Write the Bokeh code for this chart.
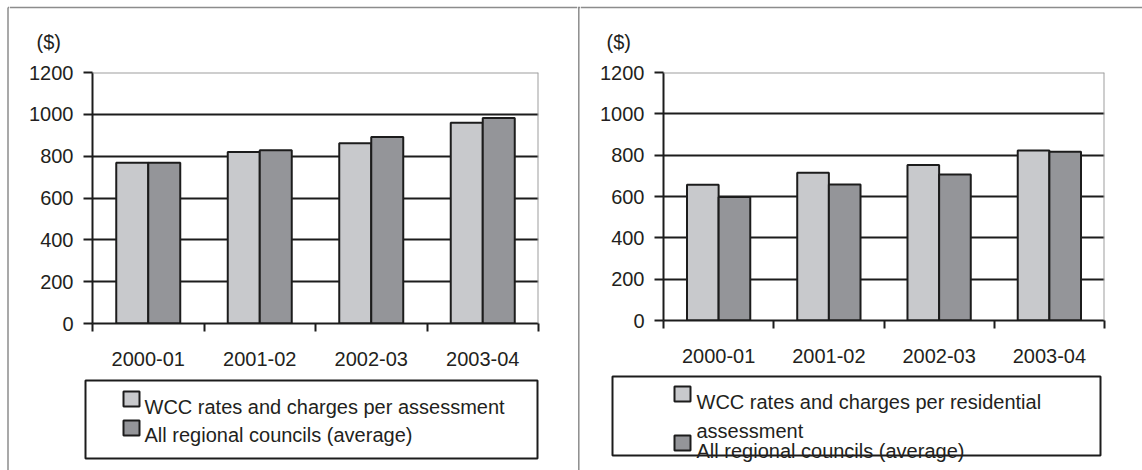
from bokeh.plotting import figure
from bokeh.layouts import row, column
from bokeh.models import Range1d, FixedTicker, CustomJSTickFormatter, Span, ColumnDataSource
from bokeh.transform import dodge
from bokeh.embed import file_html
from bokeh.resources import INLINE
from bokeh.core.properties import value

# ---- data -------------------------------------------------------------
periods = ["2000-01", "2001-02", "2002-03", "2003-04"]
wcc_per_assessment = [768, 820, 862, 960]
regional_avg_all = [768, 828, 892, 982]
wcc_per_residential = [657, 715, 753, 823]
regional_avg_residential = [597, 658, 707, 816]
y_ticks = [0, 200, 400, 600, 800, 1000, 1200]
unit_label = "($)"
legend_left = [["WCC rates and charges per assessment"], ["All regional councils (average)"]]
legend_right = [["WCC rates and charges per residential", "assessment"], ["All regional councils (average)"]]

# ---- style ------------------------------------------------------------
FONT = "Liberation Sans"
INK = "#231f20"
LIGHT = "#c8c9cc"
DARK = "#949599"
EDGE = "#1c1c1c"
FRAME_GREY = "#9d9d9d"
RULE_GREY = "#8c8c8c"
TICK_FS = "20px"
LEG_FS = "20px"


def blank(width, height, x0, y0):
    """A plain drawing surface whose data units equal page pixels."""
    p = figure(width=width, height=height,
               x_range=Range1d(x0, x0 + width), y_range=Range1d(y0 + height, y0),
               output_backend="svg", toolbar_location=None, min_border=0,
               x_axis_location=None, y_axis_location=None, frame_align=False)
    p.grid.visible = False
    p.outline_line_color = None
    p.background_fill_color = "white"
    p.border_fill_color = "white"
    return p


def bar_chart(first, second, width, height, mb_left, mb_right, mb_top, mb_bottom):
    idx = list(range(len(periods)))
    src = ColumnDataSource(dict(idx=idx, first=first, second=second))
    p = figure(width=width, height=height,
               x_range=Range1d(-0.5, len(periods) - 0.5), y_range=Range1d(y_ticks[0], y_ticks[-1]),
               output_backend="svg", toolbar_location=None, frame_align=False,
               min_border_left=mb_left, min_border_right=mb_right,
               min_border_top=mb_top, min_border_bottom=mb_bottom)
    p.outline_line_color = None
    p.background_fill_color = "white"
    p.border_fill_color = "white"

    p.vbar(x=dodge("idx", -0.1435), top="first", width=0.287, source=src,
           fill_color=LIGHT, line_color=EDGE, line_width=2)
    p.vbar(x=dodge("idx", 0.1435), top="second", width=0.287, source=src,
           fill_color=DARK, line_color=EDGE, line_width=2)

    # category axis: labels at centres, tick marks on the boundaries
    xa = p.xaxis[0]
    xa.ticker = FixedTicker(ticks=idx, minor_ticks=[i - 0.5 for i in range(len(periods) + 1)])
    xa.formatter = CustomJSTickFormatter(
        args=dict(names=periods),
        code="const n = names[Math.round(tick)]; return n === undefined ? '' : n;")
    xa.major_tick_line_color = None
    xa.major_tick_out = 0
    xa.major_tick_in = 0
    xa.minor_tick_out = 8
    xa.minor_tick_in = 0
    xa.minor_tick_line_color = EDGE
    xa.minor_tick_line_width = 2
    xa.axis_line_color = EDGE
    xa.axis_line_width = 2
    xa.major_label_text_font = FONT
    xa.major_label_text_font_size = TICK_FS
    xa.major_label_text_color = INK
    xa.major_label_standoff = 20

    ya = p.yaxis[0]
    ya.ticker = FixedTicker(ticks=y_ticks)
    ya.major_tick_out = 9
    ya.major_tick_in = 0
    ya.major_tick_line_color = EDGE
    ya.major_tick_line_width = 2
    ya.minor_tick_line_color = None
    ya.axis_line_color = EDGE
    ya.axis_line_width = 2
    ya.major_label_text_font = FONT
    ya.major_label_text_font_size = TICK_FS
    ya.major_label_text_color = INK
    ya.major_label_standoff = 10

    p.xgrid.visible = False
    p.ygrid.ticker = FixedTicker(ticks=y_ticks[1:-1])
    p.ygrid.grid_line_color = EDGE
    p.ygrid.grid_line_width = 2

    # grey plot-area border on the top and right
    p.add_layout(Span(location=y_ticks[-1], dimension="width", line_color=FRAME_GREY, line_width=2))
    p.add_layout(Span(location=len(periods) - 0.5, dimension="height", line_color=FRAME_GREY, line_width=2))
    return p


def legend_panel(p, box, swatches, text_x, rows):
    left, right, top, bottom = box
    p.quad(left=[left], right=[right], top=[top], bottom=[bottom],
           fill_color=None, line_color=EDGE, line_width=2)
    colors = [LIGHT, DARK]
    for (sx, sy), color in zip(swatches, colors):
        p.quad(left=[sx], right=[sx + 16], top=[sy], bottom=[sy + 15],
               fill_color=color, line_color=EDGE, line_width=2)
    xs, ys, texts = [], [], []
    for lines, baselines in rows:
        for line, base in zip(lines, baselines):
            xs.append(text_x)
            ys.append(base)
            texts.append(line)
    p.text(x=xs, y=ys, text=texts, text_font=value(FONT), text_font_size=LEG_FS,
           text_baseline="alphabetic", text_align="left", text_color=INK)


# ---- outer rules --------------------------------------------------------
border_l = blank(9, 470, 0, 0)
border_l.segment(x0=[7.5, 7.5], y0=[7, 7], x1=[7.5, 9], y1=[470, 7], line_color=RULE_GREY, line_width=1.5)

divider = blank(3, 470, 577, 0)
divider.segment(x0=[578.3, 577], y0=[7, 7], x1=[578.3, 580], y1=[470, 7], line_color=RULE_GREY, line_width=1.5)

# ---- left panel ---------------------------------------------------------
top_l = blank(568, 60, 9, 0)
top_l.segment(x0=[9], y0=[7], x1=[577], y1=[7], line_color=RULE_GREY, line_width=1.5)
top_l.text(x=[36], y=[41], text=[unit_label], text_font=value(FONT), text_font_size=LEG_FS,
           text_baseline="middle", text_color=INK)

chart_l = bar_chart(wcc_per_assessment, regional_avg_all, 568, 310, 83, 39, 12, 47)

leg_l = blank(568, 100, 9, 370)
legend_panel(leg_l, (85, 537, 380, 458), [(123, 391), (123, 420)], 144,
             [(legend_left[0], [406.5]), (legend_left[1], [434])])

# ---- right panel --------------------------------------------------------
top_r = blank(562, 60, 580, 0)
top_r.segment(x0=[580], y0=[7], x1=[1142], y1=[7], line_color=RULE_GREY, line_width=1.5)
top_r.text(x=[606], y=[41], text=[unit_label], text_font=value(FONT), text_font_size=LEG_FS,
           text_baseline="middle", text_color=INK)

chart_r = bar_chart(wcc_per_residential, regional_avg_residential, 562, 310, 83, 38, 12, 50)

leg_r = blank(562, 100, 580, 370)
legend_panel(leg_r, (612, 1100, 376, 455), [(674, 386), (674, 435)], 696,
             [(legend_right[0], [401, 430]), (legend_right[1], [450])])

layout = row(border_l, column(top_l, chart_l, leg_l), divider, column(top_r, chart_r, leg_r))

open("out.html", "w").write(file_html(layout, INLINE, title="Rates and charges"))
